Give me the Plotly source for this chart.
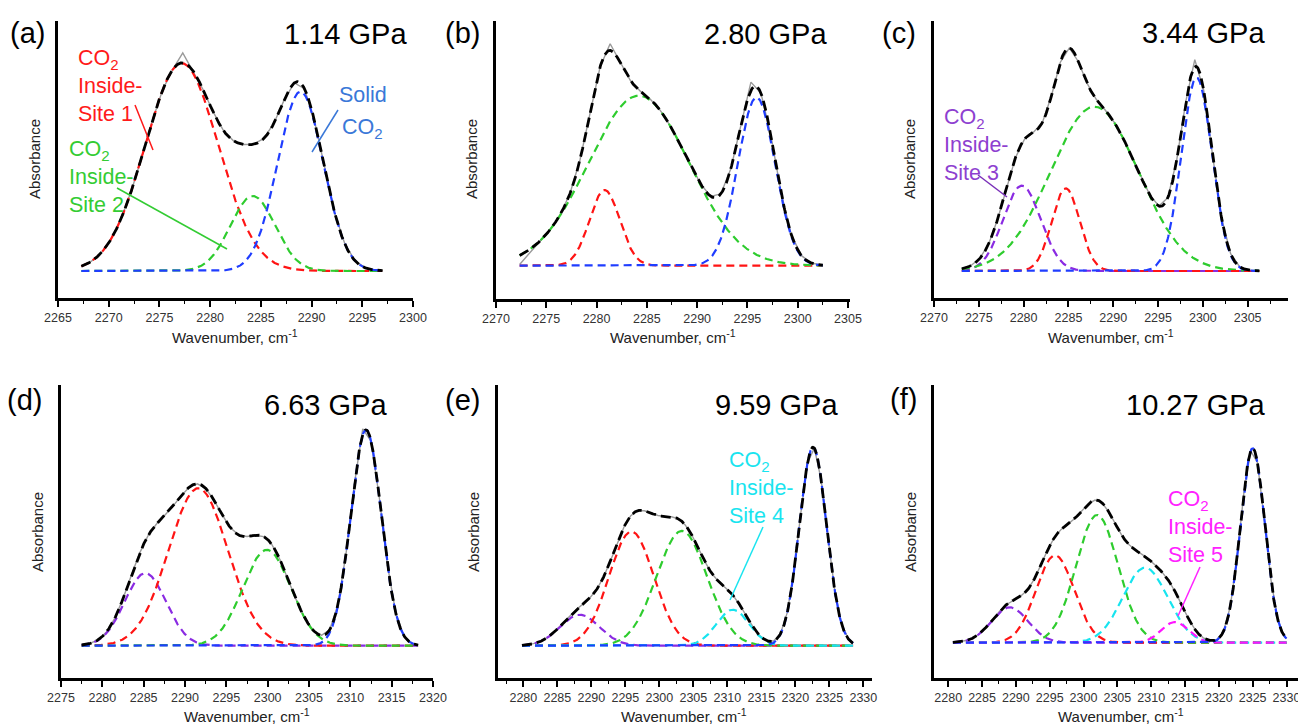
import numpy as np
import plotly.graph_objects as go

W, H = 1298, 725
FONT = "Liberation Sans, Arial, Helvetica, sans-serif"

COLORS = {"red": "#ff1414", "green": "#2ecc2e", "blue": "#1f3dff",
          "purple": "#8a2be2", "cyan": "#17e4ef", "magenta": "#ff14ff"}

# ---------------- data: fitted Gaussian components (centre cm-1, height a.u., sigma cm-1)
a_label = "(a)"
a_pressure = "1.14 GPa"
a_span = [2267.3, 2297.0]
a_names = ["red", "green", "blue"]
a_centers = [2277.2, 2284.2, 2288.9]
a_heights = [623, 225, 538]
a_sigmas = [3.6, 2.2, 2.25]
a_resid = [(2277.3, 30)]
a_xrange = [2265, 2300]
a_yrange = [-81, 750]

b_label = "(b)"
b_pressure = "2.80 GPa"
b_span = [2272.35, 2302.5]
b_names = ["red", "green", "blue"]
b_centers = [2280.8, 2284.2, 2295.9]
b_heights = [227, 510, 505]
b_sigmas = [1.5, 5.0, 1.85]
b_resid = [(2272.35, -27), (2273.35, -10), (2281.35, 20), (2295.35, 25)]
b_xrange = [2270, 2305.2]
b_yrange = [-100, 734]

c_label = "(c)"
c_pressure = "3.44 GPa"
c_span = [2273.1, 2306.3]
c_names = ["purple", "green", "red", "blue"]
c_centers = [2279.8, 2287.9, 2284.7, 2299.3]
c_heights = [256, 493, 248, 580]
c_sigmas = [2.1, 4.9, 1.55, 1.7]
c_resid = [(2299.1, 22)]
c_xrange = [2270, 2309.5]
c_yrange = [-81, 750]

d_label = "(d)"
d_pressure = "6.63 GPa"
d_span = [2277.5, 2318.2]
d_names = ["purple", "red", "green", "blue"]
d_centers = [2285.2, 2291.6, 2299.9, 2311.9]
d_heights = [218, 473, 288, 648]
d_sigmas = [2.5, 3.6, 2.9, 1.85]
d_resid = [(2311.5, 18)]
d_xrange = [2275, 2320]
d_yrange = [-97, 783]

e_label = "(e)"
e_pressure = "9.59 GPa"
e_span = [2279.8, 2328.5]
e_names = ["purple", "red", "green", "cyan", "blue"]
e_centers = [2288.3, 2295.9, 2303.3, 2310.8, 2322.6]
e_heights = [93, 343, 345, 108, 596]
e_sigmas = [2.9, 3.3, 3.7, 2.4, 2.0]
e_resid = []
e_xrange = [2276.2, 2331.2]
e_yrange = [-97, 783]

f_label = "(f)"
f_pressure = "10.27 GPa"
f_span = [2280.7, 2330.0]
f_names = ["purple", "red", "green", "cyan", "magenta", "blue"]
f_centers = [2289.1, 2295.8, 2302.0, 2309.1, 2313.5, 2325.0]
f_heights = [106, 262, 383, 225, 62, 583]
f_sigmas = [2.7, 2.8, 3.1, 3.3, 2.0, 1.8]
f_resid = []
f_xrange = [2277.9, 2331.7]
f_yrange = [-106, 773]

panels = [
    dict(label=a_label, p=a_pressure, span=a_span, names=a_names, c=a_centers, h=a_heights, s=a_sigmas, r=a_resid, xr=a_xrange, yr=a_yrange),
    dict(label=b_label, p=b_pressure, span=b_span, names=b_names, c=b_centers, h=b_heights, s=b_sigmas, r=b_resid, xr=b_xrange, yr=b_yrange),
    dict(label=c_label, p=c_pressure, span=c_span, names=c_names, c=c_centers, h=c_heights, s=c_sigmas, r=c_resid, xr=c_xrange, yr=c_yrange),
    dict(label=d_label, p=d_pressure, span=d_span, names=d_names, c=d_centers, h=d_heights, s=d_sigmas, r=d_resid, xr=d_xrange, yr=d_yrange),
    dict(label=e_label, p=e_pressure, span=e_span, names=e_names, c=e_centers, h=e_heights, s=e_sigmas, r=e_resid, xr=e_xrange, yr=e_yrange),
    dict(label=f_label, p=f_pressure, span=f_span, names=f_names, c=f_centers, h=f_heights, s=f_sigmas, r=f_resid, xr=f_xrange, yr=f_yrange),
]

# ---------------- layout geometry (pixels of the 1298x725 canvas)
boxes = [  # left, right, top, bottom
    (58, 413, 21, 298), (496, 850, 21, 299), (934, 1288, 21, 298),
    (61, 433, 385, 678), (497.5, 871.5, 385, 678), (934, 1298, 385, 678),
]
label_pos = [(8, 33), (443, 33), (880, 33), (5, 400), (443, 400), (888, 399)]
press_pos = [(409, 34), (829, 34), (1267, 33), (389, 405), (840, 405), (1268, 405)]
absorb_pos = [(35, 159), (472, 159), (910, 159), (37, 532), (473, 532), (910, 532)]
wave_pos = [(235, 336), (673, 336), (1111, 336), (247, 715), (684, 715), (1121, 715)]


def gauss(x, c, h, s):
    return h * np.exp(-((x - c) ** 2) / (2 * s ** 2))


def px(x, y):
    return x / W, 1 - y / H


fig = go.Figure()
layout = {}
annotations = []
shapes = []

for i, P in enumerate(panels):
    sfx = "" if i == 0 else str(i + 1)
    xa, ya = "x" + sfx, "y" + sfx
    lo, hi = P["span"]
    xf = np.linspace(lo, hi, 700)
    comps = [gauss(xf, c, h, s) for c, h, s in zip(P["c"], P["h"], P["s"])]
    total = np.sum(comps, axis=0)

    # measured spectrum (grey), sampled every 1 cm-1
    xg = np.arange(lo, hi + 1e-6, 1.0)
    if xg[-1] < hi - 1e-6:
        xg = np.append(xg, hi)
    yg = np.sum([gauss(xg, c, h, s) for c, h, s in zip(P["c"], P["h"], P["s"])], axis=0)
    for w, d in P["r"]:
        yg[np.argmin(np.abs(xg - w))] += d
    fig.add_trace(go.Scatter(x=xg, y=yg, mode="lines", line=dict(color="#9a9a9a", width=1.4),
                             xaxis=xa, yaxis=ya, showlegend=False, hoverinfo="skip"))
    for name, yc in zip(P["names"], comps):
        fig.add_trace(go.Scatter(x=xf, y=yc, mode="lines",
                                 line=dict(color=COLORS[name], width=2.2, dash="8px,5px"),
                                 xaxis=xa, yaxis=ya, showlegend=False, hoverinfo="skip"))
    fig.add_trace(go.Scatter(x=xf, y=total, mode="lines",
                             line=dict(color="black", width=2.8, dash="10px,5px"),
                             xaxis=xa, yaxis=ya, showlegend=False, hoverinfo="skip"))

    L, R, T, B = boxes[i]
    layout["xaxis" + sfx] = dict(
        domain=[L / W, R / W], range=P["xr"], anchor=ya, showline=True, linecolor="black",
        linewidth=2.5, ticks="outside", ticklen=6, tickwidth=1.5, tickcolor="black",
        tick0=2265, dtick=5, showgrid=False, zeroline=False, automargin=False,
        ticklabeloverflow="allow",
        minor=dict(ticks="outside", ticklen=3.5, tickwidth=1.3, tickcolor="black", dtick=2.5, tick0=2265),
        tickfont=dict(family=FONT, size=12.5, color="#333333"), fixedrange=True)
    layout["yaxis" + sfx] = dict(
        domain=[1 - B / H, 1 - T / H], range=P["yr"], anchor=xa, showline=True, linecolor="black",
        linewidth=2.5, ticks="", showticklabels=False, showgrid=False, zeroline=False,
        automargin=False, fixedrange=True)

    lx, ly = px(*label_pos[i])
    annotations.append(dict(text=P["label"], x=lx, y=ly, xref="paper", yref="paper", xanchor="left",
                            yanchor="middle", showarrow=False, font=dict(family=FONT, size=29, color="black")))
    qx, qy = px(*press_pos[i])
    annotations.append(dict(text=P["p"], x=qx, y=qy, xref="paper", yref="paper", xanchor="right",
                            yanchor="middle", showarrow=False, font=dict(family=FONT, size=29, color="black")))
    ax_, ay_ = px(*absorb_pos[i])
    annotations.append(dict(text="Absorbance", x=ax_, y=ay_, xref="paper", yref="paper", textangle=-90,
                            xanchor="center", yanchor="middle", showarrow=False,
                            font=dict(family=FONT, size=15, color="#222222")))
    wx, wy = px(*wave_pos[i])
    annotations.append(dict(text="Wavenumber, cm<sup>-1</sup>", x=wx, y=wy, xref="paper", yref="paper",
                            xanchor="center", yanchor="middle", showarrow=False,
                            font=dict(family=FONT, size=15, color="#222222")))

# ---------------- component labels and leader lines
site_labels = [  # colour, left px, middle-line centre px, text
    ("#ff1a1a", 76, 86, "CO<sub>2</sub><br>Inside-<br>Site 1"),
    ("#33cc33", 67, 177, "CO<sub>2</sub><br>Inside-<br>Site 2"),
    ("#3a78d8", 337, 95, "Solid"),
    ("#3a78d8", 340, 128, "CO<sub>2</sub>"),
    ("#8e3fd0", 942, 145, "CO<sub>2</sub><br>Inside-<br>Site 3"),
    ("#19e4ef", 727, 488, "CO<sub>2</sub><br>Inside-<br>Site 4"),
    ("#ff22ff", 1166, 527, "CO<sub>2</sub><br>Inside-<br>Site 5"),
]
for color, left, yy, txt in site_labels:
    x0, y0 = px(left, yy)
    annotations.append(dict(text=txt, x=x0, y=y0, xref="paper", yref="paper", xanchor="left",
                            yanchor="middle", align="left", showarrow=False,
                            font=dict(family=FONT, size=21.5, color=color)))

leaders = [
    ("#ff1a1a", (135, 105), (153, 150)),
    ("#33cc33", (117, 188), (227, 249)),
    ("#3a78d8", (338, 110), (312, 152)),
    ("#7a30b8", (978, 175), (1007, 197)),
    ("#19e4ef", (763, 527), (730, 600)),
    ("#ff22ff", (1200, 567), (1178, 616)),
]
for color, (x0, y0), (x1, y1) in leaders:
    p0, p1 = px(x0, y0), px(x1, y1)
    shapes.append(dict(type="line", xref="paper", yref="paper", x0=p0[0], y0=p0[1], x1=p1[0], y1=p1[1],
                       line=dict(color=color, width=1.5)))

fig.update_layout(width=W, height=H, margin=dict(l=0, r=0, t=0, b=0, autoexpand=False),
                  paper_bgcolor="white", plot_bgcolor="white", showlegend=False,
                  annotations=annotations, shapes=shapes, font=dict(family=FONT), **layout)

POST = ("document.documentElement.style.margin='0';document.documentElement.style.overflow='hidden';"
        "document.body.style.margin='0';document.body.style.padding='0';document.body.style.overflow='hidden';"
        "var g=document.getElementsByClassName('plotly-graph-div')[0];"
        "g.style.position='fixed';g.style.left='0px';g.style.top='0px';g.style.margin='0';")

fig.write_html("out.html", config={"displayModeBar": False, "responsive": False}, post_script=POST)
